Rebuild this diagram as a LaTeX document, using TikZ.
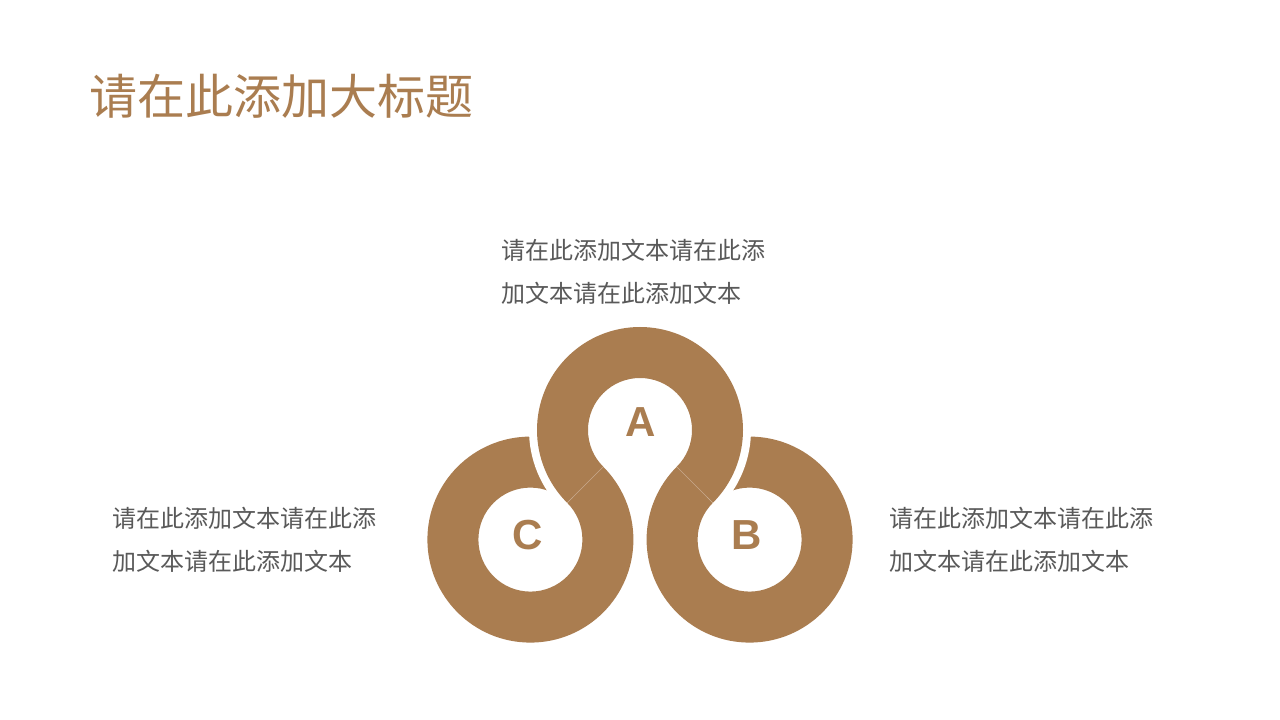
\documentclass[tikz,border=0pt]{standalone}
\usepackage{fontspec}
\setmainfont{Liberation Sans}
\newfontfamily\cjk{Noto Sans CJK SC}
\usepackage{xcolor}
\usepackage{tikz}
\usetikzlibrary{calc}
\definecolor{ringbrown}{RGB}{170,125,80}
\definecolor{textgray}{RGB}{89,89,89}
\tikzstyle{bodytext} = [anchor=west, inner sep=0pt, align=left,
                     text=textgray, font=\cjk\fontsize{24}{43}\selectfont]
\tikzstyle{titletext} = [anchor=west, inner sep=0pt,
                     text=ringbrown, font=\cjk\fontsize{48}{48}\selectfont]
\tikzstyle{letter} = [inner sep=0pt, text=ringbrown,
                     font=\bfseries\fontsize{42}{42}\selectfont]

\begin{document}
\begin{tikzpicture}[x=1pt, y=1pt, ring/.style={fill=ringbrown}, gap/.style={draw=white, line width=16pt},
seam/.style={draw=ringbrown!65!white, line width=0.5pt}]
\useasboundingbox (0,0) rectangle (1280,720);
\fill[white] (0,0) rectangle (1280,720);
%Title
\node[titletext] at (89,624) (title){请在此添加大标题};

%Centres
\coordinate (cA) at (640,290);
\coordinate (cC) at ($(cA)+(225:155)$);
\coordinate (cB) at ($(cA)+(-45:155)$);

% Ring C and ring B
\fill[ring, even odd rule] (cC) circle (103) (cC) circle (52);
\fill[ring, even odd rule] (cB) circle (103) (cB) circle (52);

% Ring A, cut free of C and B by a white band
\draw[gap] ($(cA)+(-45:103)$) arc[start angle=-45, end angle=225, radius=103];
\fill[ring] ($(cA)+(-45:103)$) arc[start angle=-45, end angle=225, radius=103]
  -- ($(cA)+(225:52)$) arc[start angle=225, end angle=-45, radius=52] -- cycle;

% Seams
\coordinate (sC1) at ($(cA)+(225:52)$);
\coordinate (sC2) at ($(cA)+(225:103)$);
\coordinate (sB1) at ($(cA)+(-45:52)$);
\coordinate (sB2) at ($(cA)+(-45:103)$);
\draw[seam] (sC1) -- (sC2);
\draw[seam] (sB1) -- (sB2);

% Letters
\node[letter] at (641,297.5) (labA){A};
\node[letter] at (527.5,185) (labC){C};
\node[letter] at (746.5,185) (labB){B};

% Texts
\node[bodytext] at (501,448.5) (textA){请在此添加文本请在此添\\加文本请在此添加文本};
\node[bodytext] at (112,180.5) (textC){请在此添加文本请在此添\\加文本请在此添加文本};
\node[bodytext] at (889,180.5) (textB){请在此添加文本请在此添\\加文本请在此添加文本};
\end{tikzpicture}
\end{document}
